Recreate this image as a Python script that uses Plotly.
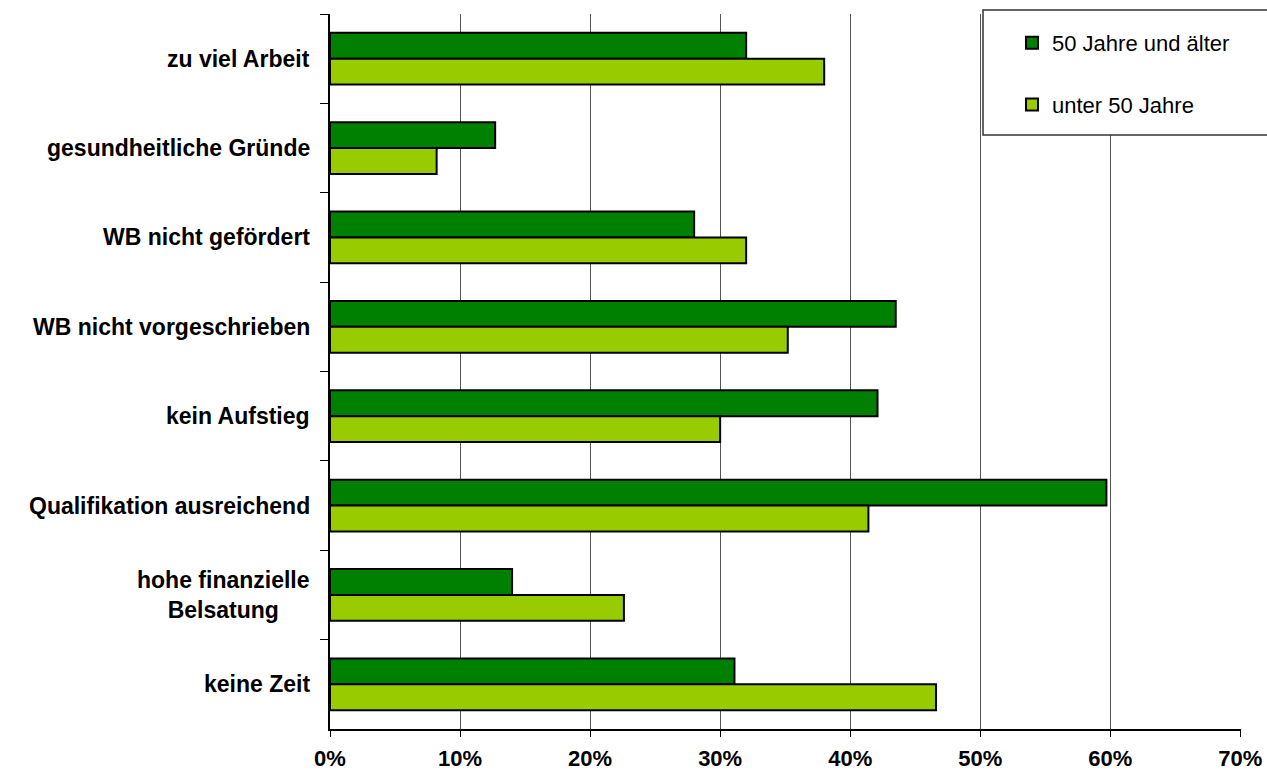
import plotly.graph_objects as go

# Reasons for not taking part in further training, by age group (share of respondents)
categories = [
    "zu viel Arbeit",
    "gesundheitliche Gründe",
    "WB nicht gefördert",
    "WB nicht vorgeschrieben",
    "kein Aufstieg",
    "Qualifikation ausreichend",
    "hohe finanzielle<br>Belsatung",
    "keine Zeit",
]
older_50 = [0.32, 0.127, 0.28, 0.435, 0.421, 0.597, 0.14, 0.311]
under_50 = [0.38, 0.082, 0.32, 0.352, 0.30, 0.414, 0.226, 0.466]
x_ticks = [0, 0.1, 0.2, 0.3, 0.4, 0.5, 0.6, 0.7]
x_tick_text = ["0%", "10%", "20%", "30%", "40%", "50%", "60%", "70%"]

W, H = 1267, 775
ML, MR, MT, MB = 330, 26, 14, 46

label_font = dict(family="Liberation Sans, Arial, sans-serif", size=23, color="black", weight="bold")
tick_font = dict(family="Liberation Sans Narrow, Arial Narrow, Liberation Sans, sans-serif",
                 size=22, color="black", weight="bold")

fig = go.Figure()
fig.add_trace(go.Bar(
    name="50 Jahre und älter", y=categories, x=older_50, orientation="h",
    marker=dict(color="#008000", line=dict(color="black", width=2)),
    legendgroup="a",
))
fig.add_trace(go.Bar(
    name="unter 50 Jahre", y=categories, x=under_50, orientation="h",
    marker=dict(color="#99CC00", line=dict(color="black", width=2)),
    legendgroup="b",
))

# category labels, centred line by line
for cat in categories:
    fig.add_annotation(
        x=0, xref="paper", y=cat, yref="y", text=cat, showarrow=False,
        xanchor="right", yanchor="middle", xshift=-18, align="center",
        font=label_font,
    )

# legend frame
plot_w = W - ML - MR
plot_h = H - MT - MB
def px_x(p):
    return (p - ML) / plot_w
def px_y(p):
    return (H - MB - p) / plot_h

fig.add_shape(
    type="rect", xref="paper", yref="paper",
    x0=px_x(983), x1=px_x(1275), y0=px_y(135), y1=px_y(10),
    fillcolor="white", line=dict(color="#333333", width=1.5), layer="above",
)

fig.update_layout(
    template="none",
    width=W, height=H,
    margin=dict(l=ML, r=MR, t=MT, b=MB, autoexpand=False),
    paper_bgcolor="white", plot_bgcolor="white",
    barmode="group", bargap=0.42, bargroupgap=0,
    showlegend=True,
    legend=dict(
        x=px_x(1012), y=px_y(22), xanchor="left", yanchor="top",
        bgcolor="rgba(0,0,0,0)", borderwidth=0,
        font=dict(family="Liberation Sans, Arial, sans-serif", size=22, color="black"),
        traceorder="grouped", tracegroupgap=30, itemwidth=30,
    ),
    xaxis=dict(
        range=[0, 0.7005], tickvals=x_ticks, ticktext=x_tick_text,
        showgrid=True, gridcolor="#555555", gridwidth=1,
        showline=True, linecolor="black", linewidth=1.5,
        ticks="outside", ticklen=6, tickcolor="black",
        tickfont=tick_font, ticklabelstandoff=3, zeroline=False,
        automargin=False,
    ),
    yaxis=dict(
        autorange="reversed", type="category",
        showticklabels=False, showgrid=False,
        showline=True, linecolor="black", linewidth=1.5,
        ticks="outside", ticklen=8, tickcolor="black", tickson="boundaries",
        automargin=False,
    ),
)

fig.write_html("out.html")
